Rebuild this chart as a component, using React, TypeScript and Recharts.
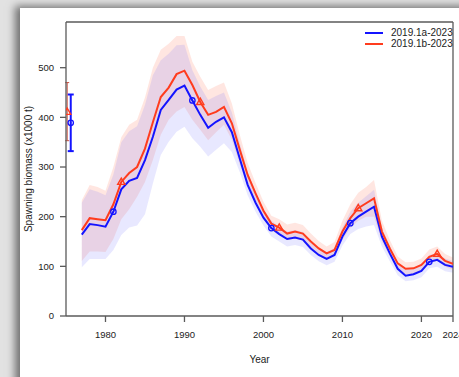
import React from "react";
import { Area, ComposedChart, ErrorBar, Legend, Line, ReferenceLine, Scatter, XAxis, YAxis } from "recharts";

// assessment years
const years = [
    1977, 1978, 1979, 1980, 1981, 1982, 1983, 1984, 1985, 1986, 1987, 1988,
    1989, 1990, 1991, 1992, 1993, 1994, 1995, 1996, 1997, 1998, 1999, 2000,
    2001, 2002, 2003, 2004, 2005, 2006, 2007, 2008, 2009, 2010, 2011, 2012,
    2013, 2014, 2015, 2016, 2017, 2018, 2019, 2020, 2021, 2022, 2023, 2024,
];

// spawning biomass, run 2019.1a-2023 (x1000 t)
const ssbA = [
    164, 185, 183, 180, 210, 255, 272, 278, 314, 361, 415, 435,
    456, 464, 434, 405, 379, 391, 400, 370, 317, 264, 228, 198,
    177, 165, 155, 158, 154, 136, 123, 115, 123, 160, 187, 200,
    210, 220, 160, 126, 95, 81, 84, 91, 109, 113, 103, 99,
];
const upperA = [
    228, 255, 250, 243, 285, 350, 372, 382, 425, 485, 515, 528,
    545, 546, 495, 462, 435, 443, 450, 410, 348, 290, 250, 215,
    192, 180, 170, 173, 169, 151, 137, 129, 137, 178, 210, 228,
    241, 254, 178, 141, 108, 94, 97, 104, 123, 127, 116, 111,
];
const lowerA = [
    98, 115, 115, 115, 133, 163, 178, 182, 205, 267, 324, 351,
    371, 381, 358, 341, 321, 335, 348, 330, 290, 243, 210, 182,
    160, 150, 140, 143, 139, 123, 110, 102, 109, 142, 165, 175,
    180, 183, 140, 110, 82, 70, 72, 78, 96, 99, 90, 87,
];

// spawning biomass, run 2019.1b-2023 (x1000 t)
const ssbB = [
    173, 197, 195, 193, 225, 270, 288, 300, 337, 390, 441, 460,
    487, 494, 465, 431, 405, 411, 421, 388, 335, 284, 247, 212,
    186, 178, 166, 170, 166, 150, 136, 126, 133, 170, 197, 217,
    227, 237, 170, 136, 106, 95, 96, 103, 119, 125, 111, 105,
];
const upperB = [
    233, 264, 260, 252, 300, 360, 385, 395, 440, 500, 536, 548,
    564, 564, 512, 482, 455, 463, 470, 428, 365, 308, 268, 230,
    202, 195, 184, 188, 183, 166, 151, 140, 149, 192, 225, 248,
    260, 274, 192, 153, 120, 108, 109, 116, 134, 140, 125, 118,
];
const lowerB = [
    111, 130, 130, 129, 155, 195, 215, 240, 270, 314, 365, 395,
    412, 421, 395, 375, 354, 370, 385, 355, 305, 262, 228, 196,
    172, 164, 153, 156, 152, 137, 124, 115, 121, 153, 177, 192,
    200, 200, 150, 121, 94, 84, 85, 91, 106, 111, 99, 93,
];

// years carrying a symbol on each line
const markYearsA = [1981, 1991, 2001, 2011, 2021];
const markYearsB = [1982, 1992, 2002, 2012, 2022];

// initial estimates with +-2 se
const startA = [{ year: 1975.6, value: 389, err: [57, 57] }];
const startB = [{ year: 1975.15, value: 411, err: [58, 59] }];

const seriesNames = ["2019.1a-2023", "2019.1b-2023"];
const xTicks = [1980, 1990, 2000, 2010, 2020, 2024];
const yTicks = [0, 100, 200, 300, 400, 500];

const BLUE = "#1414ff";
const RED = "#ff3c1e";
const AXIS = "#5a5a5a";
const FONT = "'Liberation Sans', Arial, sans-serif";

const data = years.map((year, i) => ({
    year,
    a: ssbA[i],
    b: ssbB[i],
    bandA: [lowerA[i], upperA[i]],
    bandB: [lowerB[i], upperB[i]],
}));

const Circle = ({ cx, cy }: any) => (
    <g>
        <circle cx={cx} cy={cy} r={2.7} fill="none" stroke={BLUE} strokeWidth={1.3} />
        <circle cx={cx} cy={cy} r={0.8} fill={BLUE} />
    </g>
);

const Triangle = ({ cx, cy }: any) => (
    <path
        d={`M${cx},${cy - 3.8}L${cx + 3.6},${cy + 2.5}L${cx - 3.6},${cy + 2.5}Z`}
        fill="none"
        stroke={RED}
        strokeWidth={1.4}
    />
);

const markDot = (marks: number[], Shape: any) => (props: any) => {
    const { cx, cy, payload, index } = props;
    if (!marks.includes(payload.year)) return <g key={`d-${index}`} />;
    return <Shape key={`d-${index}`} cx={cx} cy={cy} />;
};

const LegendBox = () => (
    <div style={{ fontFamily: FONT, fontSize: 10, color: "#222", lineHeight: "11px" }}>
        {seriesNames.map((name, i) => (
            <div key={name} style={{ display: "flex", alignItems: "center", height: 11 }}>
                <span
                    style={{
                        display: "inline-block",
                        width: 18,
                        height: 2,
                        background: i === 0 ? BLUE : RED,
                        marginRight: 8,
                    }}
                />
                <span>{name}</span>
            </div>
        ))}
    </div>
);

const YTitle = ({ viewBox }: any) => {
    const x = 28;
    const y = viewBox.y + viewBox.height / 2;
    return (
        <text x={x} y={y} transform={`rotate(-90 ${x} ${y})`} textAnchor="middle"
            dominantBaseline="central" fontSize={10} fill="#222" fontFamily={FONT}>
            Spawning biomass (x1000 t)
        </text>
    );
};

const XTitle = ({ viewBox }: any) => (
    <text x={viewBox.x + viewBox.width / 2} y={viewBox.y + 47} textAnchor="middle"
        fontSize={10} fill="#222" fontFamily={FONT}>
        Year
    </text>
);

const App = () => {
    const tickStyle = { fontSize: 9.5, fill: "#222", fontFamily: FONT };
    return (
        <div style={{ position: "absolute", left: 0, top: 0, width: 459, height: 377, overflow: "hidden", background: "#e2e2e2" }}>
            <div
                style={{
                    position: "absolute",
                    left: 20,
                    top: 8,
                    width: 500,
                    height: 420,
                    background: "#fff",
                    boxShadow: "-5px -2px 8px rgba(0,0,0,0.5)",
                }}
            />
            <div style={{ position: "absolute", left: 0, top: 0 }}>
                <ComposedChart
                    width={459}
                    height={377}
                    data={data}
                    margin={{ top: 22, right: 6, left: 0, bottom: 0 }}
                    style={{ fontFamily: FONT }}
                >
                    <XAxis
                        dataKey="year"
                        type="number"
                        domain={[1975, 2024]}
                        ticks={xTicks}
                        interval={0}
                        height={61}
                        tick={tickStyle}
                        tickSize={6}
                        tickMargin={9}
                        stroke={AXIS}
                        strokeWidth={1.3}
                        allowDataOverflow
                        label={{ content: XTitle }}
                    />
                    <YAxis
                        type="number"
                        domain={[0, 592]}
                        ticks={yTicks}
                        width={66}
                        tick={tickStyle}
                        tickSize={6}
                        tickMargin={6}
                        stroke={AXIS}
                        strokeWidth={1.3}
                        allowDataOverflow
                        label={{ content: YTitle }}
                    />
                    <ReferenceLine y={592} stroke={AXIS} strokeWidth={1.3} />
                    <ReferenceLine x={2024} stroke={AXIS} strokeWidth={1.3} />
                    <Area
                        dataKey="bandB"
                        type="linear"
                        stroke="none"
                        fill="rgb(255,100,70)"
                        fillOpacity={0.16}
                        legendType="none"
                        activeDot={false}
                        isAnimationActive={false}
                    />
                    <Area
                        dataKey="bandA"
                        type="linear"
                        stroke="none"
                        fill="rgb(100,100,255)"
                        fillOpacity={0.15}
                        legendType="none"
                        activeDot={false}
                        isAnimationActive={false}
                    />
                    <Line
                        dataKey="a"
                        type="linear"
                        stroke={BLUE}
                        strokeWidth={2}
                        dot={markDot(markYearsA, Circle)}
                        activeDot={false}
                        isAnimationActive={false}
                    />
                    <Line
                        dataKey="b"
                        type="linear"
                        stroke={RED}
                        strokeWidth={2}
                        dot={markDot(markYearsB, Triangle)}
                        activeDot={false}
                        isAnimationActive={false}
                    />
                    <Scatter data={startB} dataKey="value" shape={Triangle} legendType="none" isAnimationActive={false}>
                        <ErrorBar dataKey="err" direction="y" width={2} stroke="#c85040" strokeWidth={1} />
                    </Scatter>
                    <Scatter data={startA} dataKey="value" shape={Circle} legendType="none" isAnimationActive={false}>
                        <ErrorBar dataKey="err" direction="y" width={3} stroke={BLUE} strokeWidth={2} />
                    </Scatter>
                    <Legend
                        layout="vertical"
                        align="center"
                        verticalAlign="middle"
                        content={LegendBox}
                        wrapperStyle={{ left: 365, top: 27, width: 100, height: 24 }}
                    />
                </ComposedChart>
            </div>
        </div>
    );
};

export default App;
